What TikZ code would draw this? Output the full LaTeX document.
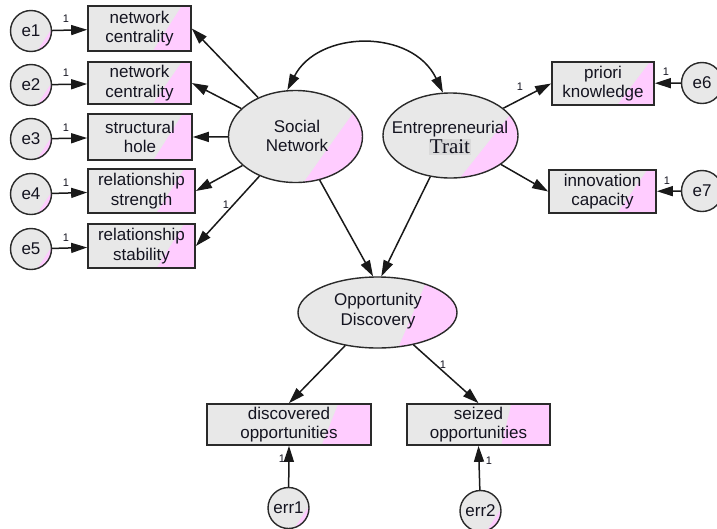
\documentclass[tikz,border=0pt]{standalone}
\usepackage{fontspec}
\setmainfont{Liberation Sans}
\newfontfamily\serifT{Liberation Serif}
\usetikzlibrary{arrows.meta,calc,shapes.geometric}
\definecolor{fillg}{HTML}{E8E8E8}
\definecolor{pinkc}{HTML}{FFCCFF}
\definecolor{edgec}{HTML}{2A2A2A}
\definecolor{txtc}{HTML}{141420}
\definecolor{traitbg}{HTML}{DADADA}
\newcommand\lblfont{\fontsize{17}{19.5}\selectfont}
\begin{document}
\begin{tikzpicture}[x=1pt,y=-1pt,
  pk/.style 2 args={path picture={
    \fill[pinkc] ($(path picture bounding box.south west)!#1!(path picture bounding box.south east)$)
      -- ($(path picture bounding box.north west)!#2!(path picture bounding box.north east)$)
      -- ++(300pt,0pt) -- ++(0pt,-300pt) -- cycle;}},
  obs/.style={draw=edgec, line width=1.7pt, fill=fillg, rectangle, inner sep=0pt, align=center, font=\lblfont, text=txtc},
  lat/.style={draw=edgec, line width=1.4pt, fill=fillg, ellipse, inner sep=0pt},
  lattext/.style={align=center, font=\lblfont, text=txtc, inner sep=0pt},
  errc/.style={draw=edgec, line width=1.4pt, fill=fillg, circle, minimum size=41pt, inner sep=0pt, font=\lblfont, text=txtc},
  arr/.style={line width=1.5pt, draw=black!90, -{Triangle[length=16pt,width=10pt]}},
  one/.style={font=\fontsize{11}{12}\selectfont, text=txtc, inner sep=0pt}
]
\useasboundingbox (0,0) rectangle (717,528);
% error circles left
\node[errc,pk={0.64}{1.3}] (e1) at (31,31) {e1};
\node[errc,pk={0.64}{1.3}] (e2) at (31,85) {e2};
\node[errc,pk={0.64}{1.3}] (e3) at (31,139) {e3};
\node[errc,pk={0.64}{1.3}] (e4) at (31,194) {e4};
\node[errc,pk={0.64}{1.3}] (e5) at (31,249) {e5};
% left boxes
\node[obs,pk={0.63}{0.91},minimum width=103pt,minimum height=45pt] (b1) at (139.5,28.5) {network\\centrality};
\node[obs,pk={0.63}{0.91},minimum width=103pt,minimum height=42pt] (b2) at (139.5,83) {network\\centrality};
\node[obs,pk={0.63}{0.91},minimum width=104pt,minimum height=46pt] (b3) at (140,137) {structural\\hole};
\node[obs,pk={0.64}{0.9},minimum width=107pt,minimum height=44pt] (b4) at (141.5,191) {relationship\\strength};
\node[obs,pk={0.64}{0.9},minimum width=107pt,minimum height=44pt] (b5) at (141.5,246) {relationship\\stability};
% latent
\node[lat,pk={0.56}{1.05},minimum width=134pt,minimum height=92pt] (sn) at (295.5,136.5) {};
\node[lattext] (snt) at (297,136) {Social\\Network};
\node[lat,pk={0.57}{1.07},minimum width=135pt,minimum height=85pt] (et) at (450.5,135.5) {};
\node[lattext] (ett) at (450,138)
  {Entrepreneurial\\[1pt]{\setlength{\fboxsep}{1pt}\colorbox{traitbg}{\serifT\fontsize{21}{22}\selectfont Trait}}};
\node[lat,pk={0.63}{0.82},minimum width=159pt,minimum height=71pt] (od) at (377.5,312.5) {};
\node[lattext] (odt) at (378,311) {Opportunity\\Discovery};
% right boxes
\node[obs,pk={0.64}{0.96},minimum width=102pt,minimum height=43pt] (pr) at (603,83.5) {priori\\knowledge};
\node[obs,pk={0.64}{0.92},minimum width=107pt,minimum height=43pt] (in) at (602.5,191.5) {innovation\\capacity};
\node[errc,pk={0.8}{1.5}] (e6) at (702,83) {e6};
\node[errc,pk={0.8}{1.5}] (e7) at (702,191) {e7};
% bottom boxes
\node[obs,pk={0.70}{0.80},minimum width=164pt,minimum height=41pt] (di) at (289,424.5) {discovered\\opportunities};
\node[obs,pk={0.66}{0.73},minimum width=143pt,minimum height=41pt] (se) at (478.5,424.5) {seized\\opportunities};
\node[errc,pk={0.64}{1.3}] (r1) at (288.5,508) {err1};
\node[errc,pk={0.64}{1.3}] (r2) at (480.5,511) {err2};
% connectors
\draw[arr] (e1) -- (b1);
\draw[arr] (e2) -- (b2);
\draw[arr] (e3) -- (b3);
\draw[arr] (e4) -- (b4);
\draw[arr] (e5) -- (b5);
\draw[arr] (sn) -- (b1.east);
\draw[arr] (sn) -- (b2.east);
\draw[arr] (sn) -- (b3.east);
\draw[arr] (sn) -- (b4.east);
\draw[arr] (sn) -- (b5.east);
\draw[arr] (et) -- (pr.west);
\draw[arr] (et) -- (in.west);
\draw[arr] (e6) -- (pr);
\draw[arr] (e7) -- (in);
\draw[arr] (sn) -- (od.97);
\draw[arr] (et) -- (od.84);
\draw[arr] (od) -- (di.north);
\draw[arr] (od) -- (se.north);
\draw[arr] (r1) -- (di.south);
\draw[arr] (r2) -- (se.south);
\draw[line width=1.5pt, draw=black!90, {Triangle[length=16pt,width=10pt]}-{Triangle[length=16pt,width=10pt]}]
  (sn.100) .. controls (318,30) and (412,28) .. (et.100);
% labels
\node[one] (l1) at (66,19) {1};
\node[one] (l2) at (66,73) {1};
\node[one] (l3) at (66,128) {1};
\node[one] (l4) at (66,183) {1};
\node[one] (l5) at (66,238) {1};
\node[one] (l6) at (226,205) {1};
\node[one] (l7) at (520,87) {1};
\node[one] (l8) at (666,72) {1};
\node[one] (l9) at (667,181) {1};
\node[one] (l10) at (443,365) {1};
\node[one] (l11) at (282,459) {1};
\node[one] (l12) at (489,461) {1};
\end{tikzpicture}
\end{document}
